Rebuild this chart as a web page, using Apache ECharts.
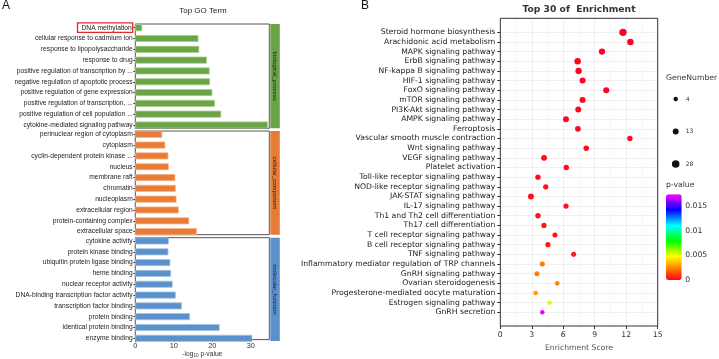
<!DOCTYPE html>
<html>
<head>
<meta charset="utf-8">
<script src="https://cdn.jsdelivr.net/npm/echarts@6.0.0/dist/echarts.min.js"></script>
<style>
  html, body { margin: 0; padding: 0; background: #fff; }
  #chart { width: 719px; height: 359px; }
</style>
</head>
<body>
<div id="chart"></div>
<script>
// ---- panel A: GO terms (-log10 p-value) ----
const bpTerms = ['DNA methylation', 'cellular response to cadmium ion', 'response to lipopolysaccharide',
  'response to drug', 'positive regulation of transcription by ...', 'negative regulation of apoptotic process',
  'positive regulation of gene expression', 'positive regulation of transcription, ...',
  'positive regulation of cell population ...', 'cytokine-mediated signaling pathway']
const bpValues = [1.8, 16.4, 16.6, 18.6, 19.3, 19.4, 20.0, 20.7, 22.3, 34.4]

const ccTerms = ['perinuclear region of cytoplasm', 'cytoplasm', 'cyclin-dependent protein kinase ...', 'nucleus',
  'membrane raft', 'chromatin', 'nucleoplasm', 'extracellular region', 'protein-containing complex', 'extracellular space']
const ccValues = [7.0, 7.8, 8.6, 8.7, 10.4, 10.5, 10.7, 11.3, 14.0, 16.0]

const mfTerms = ['cytokine activity', 'protein kinase binding', 'ubiquitin protein ligase binding', 'heme binding',
  'nuclear receptor activity', 'DNA-binding transcription factor activity', 'transcription factor binding',
  'protein binding', 'identical protein binding', 'enzyme binding']
const mfValues = [8.7, 8.6, 9.1, 9.3, 9.7, 10.5, 12.1, 14.2, 21.9, 30.4]

const facetNames = ['biological_process', 'cellular_component', 'molecular_function']
const goTicks = [0, 10, 20, 30]

// ---- panel B: KEGG enrichment ----
const keggTerms = ['Steroid hormone biosynthesis', 'Arachidonic acid metabolism', 'MAPK signaling pathway',
  'ErbB signaling pathway', 'NF-kappa B signaling pathway', 'HIF-1 signaling pathway', 'FoxO signaling pathway',
  'mTOR signaling pathway', 'PI3K-Akt signaling pathway', 'AMPK signaling pathway', 'Ferroptosis',
  'Vascular smooth muscle contraction', 'Wnt signaling pathway', 'VEGF signaling pathway', 'Platelet activation',
  'Toll-like receptor signaling pathway', 'NOD-like receptor signaling pathway', 'JAK-STAT signaling pathway',
  'IL-17 signaling pathway', 'Th1 and Th2 cell differentiation', 'Th17 cell differentiation',
  'T cell receptor signaling pathway', 'B cell receptor signaling pathway', 'TNF signaling pathway',
  'Inflammatory mediator regulation of TRP channels', 'GnRH signaling pathway', 'Ovarian steroidogenesis',
  'Progesterone-mediated oocyte maturation', 'Estrogen signaling pathway', 'GnRH secretion']
const keggScores = [11.69, 12.4, 9.69, 7.37, 7.46, 7.84, 10.1, 7.84, 7.43, 6.26, 7.4, 12.35, 8.19, 4.17, 6.29,
  3.59, 4.33, 2.92, 6.26, 3.59, 4.16, 5.21, 4.54, 6.99, 4.0, 3.49, 5.43, 3.37, 4.7, 4.0]
const keggGenes = [26, 17, 16, 17, 16, 14, 14, 13, 13, 13, 11, 9, 10, 12, 9, 9, 8, 13, 8, 9, 8, 7, 8, 7,
  7, 7, 5, 5, 4, 4]
const keggPvalues = [0.00002, 0.00004, 0.00005, 0.00006, 0.00008, 0.0001, 0.0001, 0.00012, 0.00013, 0.00015,
  0.00018, 0.0002, 0.0002, 0.00022, 0.00025, 0.00028, 0.0003, 0.0003, 0.00035, 0.00035, 0.0004, 0.0004,
  0.00045, 0.0005, 0.0023, 0.0024, 0.0025, 0.003, 0.0052, 0.0172]
const geneLegend = ['4', '13', '28']
const pTicks = [0, 0.005, 0.01, 0.015]
const pMax = 0.0174

const facetColors = ['#6aa446', '#e87b35', '#5a90cc']
const facetEdges = ['#a6cf8c', '#f5b48a', '#a3c4e8']
const rainbow = ['#ff0022', '#ff5500', '#ffaa00', '#ffff00', '#80ff00', '#00ff00', '#00ff80', '#00ffff',
  '#0080ff', '#0000ff', '#8000ff', '#ff00ff']

const fontA = 'Liberation Sans'
const fontB = 'DejaVu Sans'
const sizeOf = (n) => 2.6 + 0.93 * Math.sqrt(n)

// layout of panel A
const goLeft = 135.3
const goWidth = 134
const goMax = 34.8
const frames = [[24, 104.3], [131, 103.7], [237.7, 103.3]]
const rowsTop = [27.7, 134.3, 241]
const rowsHeight = 97.3

const chart = echarts.init(document.getElementById('chart'))

const goSets = [[bpTerms, bpValues], [ccTerms, ccValues], [mfTerms, mfValues]]

const grids = []
const xAxes = []
const yAxes = []
const series = []
const graphic = []

goSets.forEach(([terms, values], i) => {
  // data grid
  grids.push({ left: goLeft, width: goWidth, top: rowsTop[i], height: rowsHeight })
  xAxes.push({ gridIndex: i, type: 'value', min: 0, max: goMax, show: false })
  yAxes.push({
    gridIndex: i,
    type: 'category',
    data: terms,
    inverse: true,
    boundaryGap: false,
    axisLine: { show: false },
    axisTick: { show: true, interval: 0, length: 2, lineStyle: { color: '#444' } },
    axisLabel: {
      interval: 0,
      fontSize: 6.7,
      fontFamily: fontA,
      color: '#222',
      margin: 2.6,
      formatter: (v) => (v === 'DNA methylation' ? '{hl|' + v + '}' : v),
      rich: {
        hl: {
          fontSize: 6.7,
          fontFamily: fontA,
          color: '#222',
          borderColor: '#e3262b',
          borderWidth: 1.3,
          padding: [1.5, 1, 1, 4],
        },
      },
    },
    splitLine: { show: false },
  })
  series.push({
    type: 'bar',
    xAxisIndex: i,
    yAxisIndex: i,
    data: values,
    barWidth: 7,
    clip: false,
    itemStyle: { color: facetColors[i], borderColor: facetEdges[i], borderWidth: 0.8 },
  })
})

frames.forEach(([top, height], i) => {
  const gi = 3 + i
  grids.push({ left: goLeft, width: goWidth, top, height, show: true, borderColor: '#555', borderWidth: 1, backgroundColor: 'transparent' })
  const isLast = i === 2
  xAxes.push({
    gridIndex: gi,
    type: 'value',
    min: 0,
    max: goMax,
    show: isLast,
    axisLine: { show: false },
    axisTick: { show: true, length: 2.5, lineStyle: { color: '#444' }, customValues: goTicks },
    axisLabel: { fontSize: 7.4, fontFamily: fontA, color: '#333', margin: 3, customValues: goTicks },
    splitLine: { show: false },
    name: '-log{sub|10} p-value',
    nameLocation: 'middle',
    nameGap: 10,
    nameTextStyle: {
      fontSize: 6.7,
      fontFamily: fontA,
      color: '#333',
      rich: { sub: { fontSize: 4.6, fontFamily: fontA, color: '#333', verticalAlign: 'bottom', padding: [3, 0, 0, 0] } },
    },
  })
  yAxes.push({ gridIndex: gi, type: 'value', show: false })

  // facet strip
  graphic.push({
    type: 'rect',
    shape: { x: 270.3, y: top, width: 9.5, height },
    style: { fill: facetColors[i] },
    silent: true,
  })
  graphic.push({
    type: 'text',
    x: 275,
    y: top + height / 2,
    rotation: -Math.PI / 2,
    style: { text: facetNames[i], font: '6px "Liberation Sans"', fill: '#222', align: 'center', verticalAlign: 'middle' },
    silent: true,
  })
})

// panel B frame (grid 6)
grids.push({ left: 500.3, width: 157.4, top: 18.3, height: 307.7, show: true, borderColor: '#333', borderWidth: 1, backgroundColor: 'transparent', z: 1 })
xAxes.push({
  gridIndex: 6,
  type: 'value',
  min: 0,
  max: 15,
  interval: 3,
  axisLine: { show: false },
  axisTick: { show: true, length: 3, lineStyle: { color: '#333' } },
  axisLabel: { fontSize: 7.7, fontFamily: fontB, color: '#333', margin: 5 },
  splitLine: { show: true, lineStyle: { color: '#ebebeb', width: 0.8 } },
  minorTick: { show: false, splitNumber: 2 },
  minorSplitLine: { show: true, lineStyle: { color: '#f4f4f4', width: 0.6 } },
  name: 'Enrichment Score',
  nameLocation: 'middle',
  nameGap: 16,
  nameTextStyle: { fontSize: 7.7, fontFamily: fontB, color: '#555' },
})
yAxes.push({ gridIndex: 6, type: 'value', show: false })

// panel B data (grid 7)
grids.push({ left: 500.3, width: 157.4, top: 32.3, height: 280 })
xAxes.push({ gridIndex: 7, type: 'value', min: 0, max: 15, show: false })
yAxes.push({
  gridIndex: 7,
  type: 'category',
  data: keggTerms,
  inverse: true,
  boundaryGap: false,
  axisLine: { show: false },
  axisTick: { show: true, interval: 0, length: 3, lineStyle: { color: '#333' } },
  axisLabel: { interval: 0, fontSize: 7.7, fontFamily: fontB, color: '#1a1a1a', margin: 5 },
  splitLine: { show: true, interval: 0, lineStyle: { color: '#ebebeb', width: 0.8 } },
})
series.push({
  type: 'scatter',
  xAxisIndex: 7,
  yAxisIndex: 7,
  data: keggTerms.map((t, i) => [keggScores[i], t, keggPvalues[i], keggGenes[i]]),
  encode: { x: 0, y: 1 },
  symbolSize: (d) => sizeOf(d[3]),
  itemStyle: { opacity: 1 },
  clip: false,
  z: 5,
})

// size legend (grid 8)
grids.push({ left: 670.7, width: 10, top: 99, height: 65 })
xAxes.push({ gridIndex: 8, type: 'value', min: 0, max: 1, show: false })
yAxes.push({
  gridIndex: 8,
  type: 'category',
  data: geneLegend,
  inverse: true,
  boundaryGap: false,
  position: 'right',
  axisLine: { show: false },
  axisTick: { show: false },
  axisLabel: { interval: 0, fontSize: 6, fontFamily: fontB, color: '#333', margin: 5 },
})
series.push({
  type: 'scatter',
  xAxisIndex: 8,
  yAxisIndex: 8,
  data: geneLegend.map((g) => [0.5, g, Number(g)]),
  symbolSize: (d) => sizeOf(d[2]),
  itemStyle: { color: '#111', opacity: 1 },
  clip: false,
})

// colour bar labels (grid 9)
grids.push({ left: 666, width: 15.7, top: 194.3, height: 85.7 })
xAxes.push({ gridIndex: 9, type: 'value', show: false })
yAxes.push({
  gridIndex: 9,
  type: 'value',
  min: 0,
  max: pMax,
  position: 'right',
  axisLine: { show: false },
  axisTick: { show: false, customValues: pTicks },
  axisLabel: { fontSize: 7.7, fontFamily: fontB, color: '#333', margin: 3.5, customValues: pTicks },
  splitLine: { show: false },
})

const option = {
  animation: false,
  backgroundColor: '#fff',
  title: [
    { text: 'A', left: 2, top: 0, padding: 0, textStyle: { fontSize: 12, fontWeight: 'normal', fontFamily: fontA, color: '#111' } },
    { text: 'Top GO Term', left: 203, top: 7, padding: 0, textAlign: 'center', textStyle: { fontSize: 8, fontWeight: 'normal', fontFamily: fontA, color: '#222' } },
    { text: 'B', left: 361, top: 0, padding: 0, textStyle: { fontSize: 12, fontWeight: 'normal', fontFamily: fontA, color: '#111' } },
    { text: 'Top 30 of  Enrichment', left: 579, top: 5, padding: 0, textAlign: 'center', textStyle: { fontSize: 9.2, fontWeight: 'bold', fontFamily: fontB, color: '#333' } },
    { text: 'GeneNumber', left: 666, top: 74.5, padding: 0, textStyle: { fontSize: 7.7, fontWeight: 'normal', fontFamily: fontB, color: '#333' } },
    { text: 'p-value', left: 666, top: 181.5, padding: 0, textStyle: { fontSize: 7.7, fontWeight: 'normal', fontFamily: fontB, color: '#333' } },
  ],
  grid: grids,
  xAxis: xAxes,
  yAxis: yAxes,
  visualMap: {
    type: 'continuous',
    seriesIndex: 3,
    dimension: 2,
    min: 0,
    max: pMax,
    left: 666,
    top: 194.3,
    itemWidth: 15.7,
    itemHeight: 85.7,
    padding: 0,
    calculable: false,
    text: null,
    showLabel: false,
    inRange: { color: rainbow },
  },
  graphic,
  series,
}

chart.setOption(option)
</script>
</body>
</html>
